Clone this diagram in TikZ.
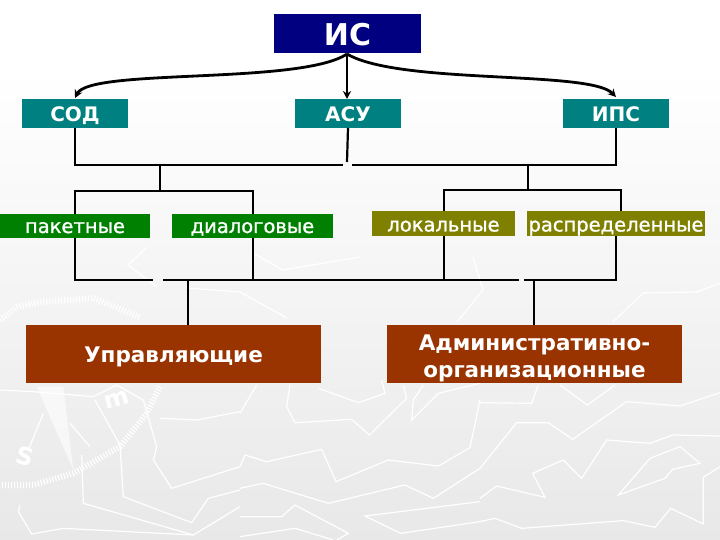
\documentclass[tikz,border=0pt]{standalone}
\usepackage{fontspec}
\setmainfont{DejaVu Sans}
\newfontfamily\midfont{DejaVu Sans}[FakeBold=1.2]
\usetikzlibrary{arrows.meta}
\definecolor{navybox}{HTML}{000080}
\definecolor{tealbox}{HTML}{008080}
\definecolor{greenbox}{HTML}{008000}
\definecolor{olivebox}{HTML}{808000}
\definecolor{brownbox}{HTML}{993300}
\tikzset{
	box/.style={anchor=north west,inner sep=0,outer sep=0,align=center,text=white,minimum width=#1},
	topfont/.style={font=\bfseries\fontsize{30}{30}\selectfont,text height=25pt,text depth=0pt},
	tealfont/.style={font=\bfseries\fontsize{20}{20}\selectfont,text height=17pt,text depth=0pt},
	midlabel/.style={font=\midfont\fontsize{19.5}{19.5}\selectfont,text height=#1,text depth=0pt},
	brownfont/.style={font=\bfseries\fontsize{21.5}{27}\selectfont},
	link/.style={draw=black,line width=2.2pt},
	pointer/.style={draw=black,line width=2.8pt,-{Stealth[length=8pt,width=8pt]}},
	map/.style={draw=white,line width=1.2pt},
	hatch/.style={draw=white,line width=6pt,dash pattern=on 1.2pt off 1.8pt}
}
\begin{document}
\begin{tikzpicture}[x=1pt,y=-1pt]
	\useasboundingbox (0,0) rectangle (720,540);
	\shade [top color=white,bottom color=black!9] (0,70) rectangle (720,540);
	
	% map in the background
	\begin{scope}[shift={(0,380)},scale=1/3]
		\draw [map] (0,30) -- (100,35) -- (280,50) -- (350,15) -- (430,60) -- (470,200) -- (460,240) -- (515,325) -- (720,260);
		\draw [map] (285,60) -- (360,195) -- (370,350) -- (575,428) -- (625,355) -- (720,330);
		\draw [map] (60,375) -- (55,395) -- (95,462) -- (190,445) -- (580,465) -- (720,380);
		\draw [map] (480,115) -- (590,120) -- (720,95);
		\draw [map] (245,225) -- (250,370) -- (580,465);
		\draw [map] (130,100) -- (85,210);
		\draw [map] (210,130) -- (270,200);
		\draw [hatch] (480,20) -- (440,100) -- (360,200) -- (220,280) -- (100,315) -- (5,315);
		\fill [white,opacity=.6] (110,20) -- (190,20) -- (220,270) -- cycle;
		\node [text=white,font=\bfseries\fontsize{24}{24}\selectfont,rotate=-15] (south) at (75,230) {S};
		\node [text=white,font=\bfseries\fontsize{24}{24}\selectfont,rotate=15] (mark) at (352,58) {m};
	\end{scope}
	\begin{scope}[shift={(240,380)},scale=1/3]
		\draw [map] (50,15) -- (0,100);
		\draw [map] (150,15) -- (140,80) -- (165,128) -- (335,118) -- (388,165) -- (500,55) -- (490,15);
		\draw [map] (235,25) -- (355,68) -- (435,40) -- (425,0);
		\draw [map] (550,15) -- (520,60) -- (515,120) -- (595,40) -- (720,10);
		\draw [map] (0,260) -- (15,225) -- (80,245) -- (245,208) -- (288,305) -- (445,240) -- (595,258) -- (690,203) -- (720,60);
		\draw [map] (0,325) -- (70,310) -- (265,370) -- (495,315) -- (580,355) -- (720,265);
		\draw [map] (0,410) -- (125,410) -- (165,375) -- (325,460) -- (290,480);
		\draw [map] (0,470) -- (165,445) -- (280,480);
		\draw [map] (720,365) -- (375,408) -- (482,460) -- (720,425);
	\end{scope}
	\begin{scope}[shift={(480,380)},scale=1/3]
		\draw [map] (0,68) -- (155,70) -- (175,15);
		\draw [map] (240,15) -- (322,75) -- (405,15);
		\draw [map] (0,265) -- (110,128) -- (205,128) -- (278,178) -- (440,65) -- (600,78) -- (720,38);
		\draw [map] (0,355) -- (50,318) -- (195,352) -- (158,280) -- (250,240) -- (305,295) -- (380,180) -- (510,190) -- (578,165) -- (720,168);
		\draw [map] (415,345) -- (510,235) -- (600,200) -- (660,250) -- (578,268) -- (555,295) -- cycle;
		\draw [map] (0,425) -- (45,415) -- (125,445) -- (430,422) -- (525,442) -- (572,385) -- (670,432) -- (670,292) -- (720,260);
	\end{scope}
	\draw [hatch] (0,320) -- (17,307) -- (43,302) -- (93,298) -- (140,317);
	\draw [map] (187,288) -- (240,292) -- (287,318);
	\draw [map] (157,287) -- (128,265) -- (147,247);
	\draw [map] (253,253) -- (283,270) -- (360,257);
	\draw [map] (613,322) -- (643,293) -- (697,292) -- (720,283);
	\draw [map] (473,257) -- (483,290) -- (457,322);
	
	% top level
	\node [box=147pt,topfont,fill=navybox,minimum height=39pt] (ic) at (274,14) {ИС};
	\node [box=106pt,tealfont,fill=tealbox,minimum height=29pt] (cod) at (22,99) {СОД};
	\node [box=106pt,tealfont,fill=tealbox,minimum height=29pt] (acu) at (295,99) {АСУ};
	\node [box=106pt,tealfont,fill=tealbox,minimum height=29pt] (ipc) at (563,99) {ИПС};
	
	% second level
	\node [box=150pt,midlabel=14pt,fill=greenbox,minimum height=24pt] (paket) at (0,214) {пакетные};
	\node [box=161pt,midlabel=14pt,fill=greenbox,minimum height=24pt] (dialog) at (172,214) {диалоговые};
	\node [box=143pt,midlabel=16pt,fill=olivebox,minimum height=25pt] (lokal) at (372,211) {локальные};
	\node [box=178pt,midlabel=16pt,fill=olivebox,minimum height=25pt] (raspr) at (527,211) {распределенные};
	
	% bottom level
	\node [box=295pt,brownfont,text height=17pt,text depth=0pt,fill=brownbox,minimum height=58pt] (upr) at (26,325) {Управляющие};
	\node [box=295pt,brownfont,text height=46pt,text depth=0pt,fill=brownbox,minimum height=58pt] (adm) at (387,325) {Административно-\\организационные};
	
	\coordinate (from) at (347,54);
	\draw [pointer] (from) .. controls (300,85) and (90,68) .. (75,98);
	\draw [pointer] (from) -- (acu.north-|from);
	\draw [pointer] (from) .. controls (400,85) and (590,70) .. (616,97);
	
	% upper bus
	\coordinate (busa) at (75,165);
	\coordinate (busb) at (616,165);
	\coordinate (gapa) at (343,165);
	\coordinate (gapb) at (352,165);
	\coordinate (acuend) at (347,162);
	\draw [link] (cod.south-|busa) -- (busa) -- (gapa);
	\draw [link] (gapb) -- (busb) -- (ipc.south-|busb);
	\draw [link] (acu.south) -- (acuend);
	
	\coordinate (taka) at (160,165);
	\coordinate (takb) at (160,191);
	\coordinate (takc) at (528,165);
	\coordinate (takd) at (528,190);
	\coordinate (pakup) at (75,214);
	\coordinate (dialup) at (253,214);
	\coordinate (lokup) at (444,211);
	\coordinate (rasup) at (621,211);
	\draw [link] (taka) -- (takb);
	\draw [link] (takc) -- (takd);
	\draw [link] (pakup) |- (takb) -| (dialup);
	\draw [link] (lokup) |- (takd) -| (rasup);
	
	% lower bus
	\coordinate (busc) at (75,280);
	\coordinate (busd) at (616,280);
	\coordinate (gapc) at (153,280);
	\coordinate (gapd) at (163,280);
	\coordinate (gape) at (519,280);
	\coordinate (gapf) at (524,280);
	\coordinate (dialbus) at (253,280);
	\coordinate (lokbus) at (444,280);
	\coordinate (uprbus) at (188,280);
	\coordinate (admbus) at (534,280);
	\draw [link] (paket.south-|busc) -- (busc) -- (gapc);
	\draw [link] (gapd) -- (gape);
	\draw [link] (gapf) -- (busd) -- (raspr.south-|busd);
	\draw [link] (dialog.south-|dialbus) -- (dialbus);
	\draw [link] (lokal.south-|lokbus) -- (lokbus);
	\draw [link] (uprbus) -- (upr.north-|uprbus);
	\draw [link] (admbus) -- (adm.north-|admbus);
\end{tikzpicture}
\end{document}
